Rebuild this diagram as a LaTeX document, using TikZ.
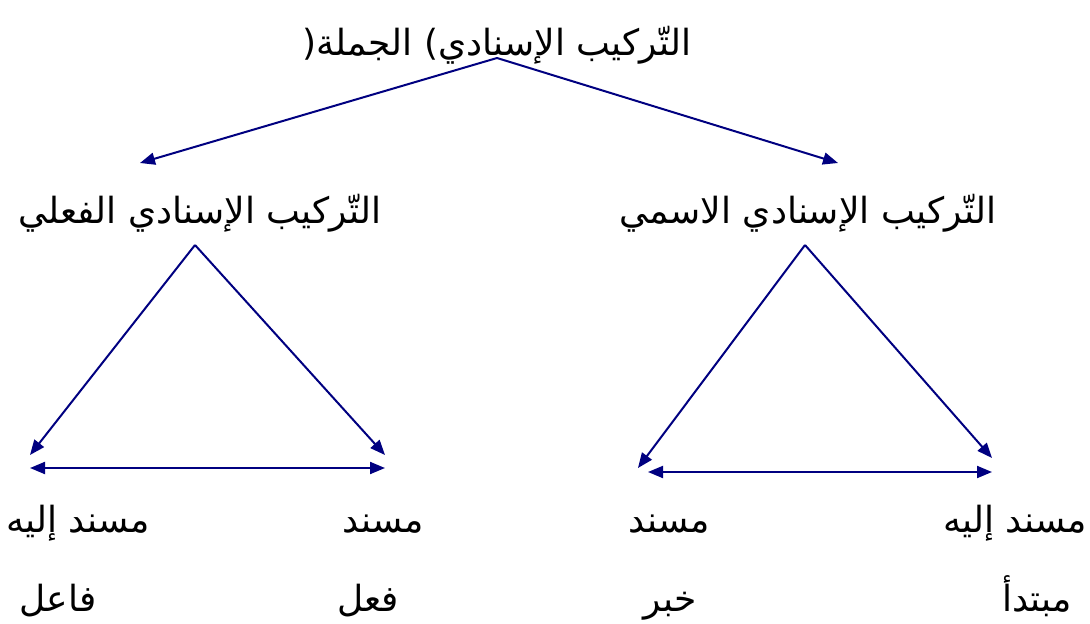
\documentclass[tikz,border=0pt]{standalone}
\usepackage{fontspec}
\newfontfamily\arabicfont[Script=Arabic]{DejaVu Sans}
\TeXXeTstate=1
\usetikzlibrary{arrows.meta}
\definecolor{arrownavy}{HTML}{000080}
\begin{document}
\begin{tikzpicture}[x=1pt,y=-1pt,
 link/.style={-{Triangle[length=15pt,width=12pt]},line width=2pt,arrownavy},
 both/.style={{Triangle[length=15pt,width=12pt]}-{Triangle[length=15pt,width=12pt]},line width=2pt,arrownavy},
 lab/.style={font=\arabicfont\fontsize{36}{42}\selectfont,inner sep=0pt,anchor=base}]
\useasboundingbox (0,0) rectangle (1090,624);
% Headings
\node[lab] (root) at (497,55) {\beginR التّركيب الإسنادي\hbox{)} الجملة\hbox{(}\endR};
\node[lab] (verbal) at (200,223) {\beginR التّركيب الإسنادي الفعلي\endR};
\node[lab] (nominal) at (808,223) {\beginR التّركيب الإسنادي الاسمي\endR};
% Bottom labels
\node[lab] (vsubj) at (78,532) {\beginR مسند إليه\endR};
\node[lab] (vpred) at (383,532) {\beginR مسند\endR};
\node[lab] (npred) at (669,532) {\beginR مسند\endR};
\node[lab] (nsubj) at (1015,532) {\beginR مسند إليه\endR};
\node[lab] (agent) at (58,611) {\beginR فاعل\endR};
\node[lab] (verb) at (368,611) {\beginR فعل\endR};
\node[lab] (khabar) at (670,611) {\beginR خبر\endR};
\node[lab] (mubtada) at (1037,611) {\beginR مبتدأ\endR};
% Arrow ends
\coordinate (rootfoot) at (497,58);
\coordinate (verbalin) at (140,163);
\coordinate (nominalin) at (838,163);
\coordinate (vapex) at (195,245);
\coordinate (vleft) at (30,455);
\coordinate (vright) at (385,455);
\coordinate (vbl) at (30,468);
\coordinate (vbr) at (385,468);
\coordinate (napex) at (805,245);
\coordinate (nleft) at (638,468);
\coordinate (nright) at (992,458);
\coordinate (nbl) at (648,472);
\coordinate (nbr) at (992,472);
\draw[link] (rootfoot) -- (verbalin);
\draw[link] (rootfoot) -- (nominalin);
\draw[link] (vapex) -- (vleft);
\draw[link] (vapex) -- (vright);
\draw[both] (vbl) -- (vbr);
\draw[link] (napex) -- (nleft);
\draw[link] (napex) -- (nright);
\draw[both] (nbl) -- (nbr);
\end{tikzpicture}
\end{document}
